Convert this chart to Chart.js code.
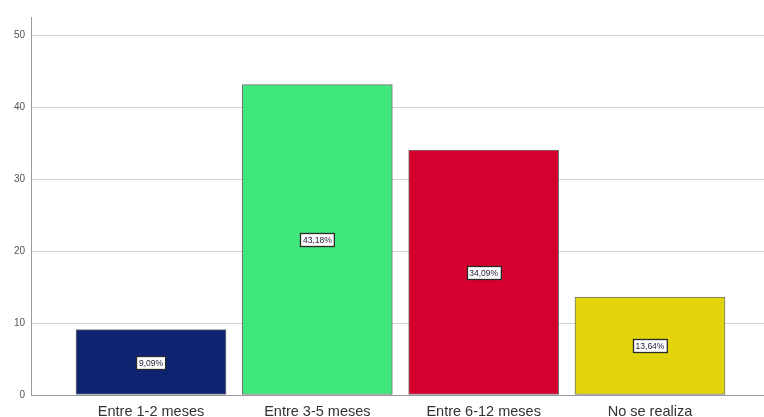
<!DOCTYPE html>
<html>
<head>
<meta charset="utf-8">
<script src="https://cdn.jsdelivr.net/npm/chart.js@4.4.1/dist/chart.umd.min.js"></script>
<style>
  html, body { margin: 0; padding: 0; background: #fff; }
  #wrap { width: 764px; height: 417px; position: relative; }
</style>
</head>
<body>
<div id="wrap"><canvas id="myChart"></canvas></div>
<script>
const categories = ["Entre 1-2 meses", "Entre 3-5 meses", "Entre 6-12 meses", "No se realiza"];
const percentages = [9.09, 43.18, 34.09, 13.64];
const barColors = ["#0e2471", "#3fe77c", "#d5002d", "#e2d40b"];
const yTicks = [0, 10, 20, 30, 40, 50];

// boxed percentage label in the middle of each bar
const valueBoxes = {
    id: 'valueBoxes',
    afterDatasetsDraw: function(chart) {
        const ctx = chart.ctx;
        const meta = chart.getDatasetMeta(0);
        const yScale = chart.scales.y;
        ctx.save();
        ctx.font = '8.5px "Liberation Sans", Arial, sans-serif';
        ctx.textAlign = 'center';
        ctx.textBaseline = 'middle';
        meta.data.forEach(function(bar, i) {
            const txt = percentages[i].toFixed(2).replace('.', ',') + '%';
            const cy = yScale.getPixelForValue(percentages[i] / 2);
            const w = ctx.measureText(txt).width + 5;
            const h = 13;
            const x0 = Math.round(bar.x - w / 2) + 0.5;
            const y0 = Math.round(cy - h / 2) + 0.5;
            ctx.fillStyle = '#ffffff';
            ctx.fillRect(x0, y0, w, h);
            ctx.strokeStyle = '#2a2a2a';
            ctx.lineWidth = 1.3;
            ctx.strokeRect(x0, y0, w, h);
            ctx.fillStyle = '#22223a';
            ctx.fillText(txt, bar.x, cy + 1);
        });
        ctx.restore();
    }
};

new Chart(document.getElementById("myChart"), {
    type: 'bar',
    data: {
        datasets: [{
            data: percentages.map((v, i) => ({ x: i, y: v })),
            backgroundColor: barColors,
            borderColor: 'rgba(0,0,0,0.55)',
            borderWidth: 1,
            borderSkipped: false,
            barThickness: 150
        }]
    },
    options: {
        responsive: true,
        maintainAspectRatio: false,
        animation: false,
        layout: { padding: { top: 17, right: 0, left: 0, bottom: 0 } },
        plugins: {
            legend: { display: false },
            tooltip: { enabled: false }
        },
        scales: {
            x: {
                type: 'linear',
                offset: false,
                min: -0.7215,
                max: 3.6855,
                grid: { display: false },
                border: { color: '#999999', width: 1 },
                afterBuildTicks: function(axis) {
                    axis.ticks = categories.map((c, i) => ({ value: i }));
                },
                afterFit: function(axis) { axis.height = 22; },
                ticks: {
                    autoSkip: false,
                    maxRotation: 0,
                    padding: 0,
                    color: '#333333',
                    font: { family: '"Liberation Sans", Arial, sans-serif', size: 14.5 },
                    callback: (value) => categories[value]
                }
            },
            y: {
                min: 0,
                max: 52.6,
                afterBuildTicks: function(axis) {
                    axis.ticks = yTicks.map(v => ({ value: v }));
                },
                afterFit: function(axis) { axis.width = 31; },
                grid: { color: '#d4d4d4', lineWidth: 1, drawTicks: false },
                border: { color: '#999999', width: 1 },
                ticks: {
                    padding: 6,
                    color: '#555555',
                    font: { family: '"Liberation Sans", Arial, sans-serif', size: 10 }
                }
            }
        }
    },
    plugins: [valueBoxes]
});
</script>
</body>
</html>
